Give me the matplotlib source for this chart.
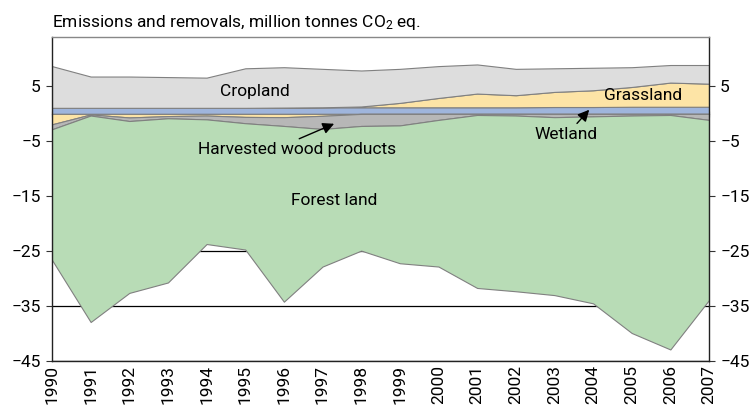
import numpy as np
import matplotlib
matplotlib.use("Agg")
import matplotlib.pyplot as plt

plt.rcParams['font.family'] = ['Roboto', 'DejaVu Sans']
plt.rcParams['mathtext.fontset'] = 'custom'
plt.rcParams['mathtext.rm'] = 'Roboto'
plt.rcParams['mathtext.it'] = 'Roboto:italic'
plt.rcParams['mathtext.bf'] = 'Roboto:bold'

years = list(range(1990, 2008))
wetland = [1.1, 1.1, 1.1, 1.1, 1.1, 1.1, 1.15, 1.2, 1.2, 1.2, 1.2, 1.2, 1.2, 1.25, 1.25, 1.3, 1.3, 1.3]
grassland = [-1.9, -0.1, -0.65, -0.4, -0.3, -0.55, -0.6, -0.35, 0.15, 0.8, 1.7, 2.5, 2.2, 2.75, 3.05, 3.6, 4.4, 4.2]
cropland = [7.6, 5.7, 5.7, 5.6, 5.5, 7.2, 7.35, 7.0, 6.55, 6.2, 5.8, 5.3, 4.8, 4.3, 4.1, 3.6, 3.2, 3.4]
harvested_wood = [-0.9, -0.2, -0.65, -0.4, -0.7, -1.15, -1.6, -2.4, -2.2, -2.1, -1.1, -0.2, -0.3, -0.6, -0.45, -0.3, -0.2, -1.1]
forest_land = [-23.8, -37.6, -31.3, -29.9, -22.7, -23.0, -32.0, -25.05, -22.7, -25.1, -26.7, -31.5,
               -32.0, -32.4, -34.05, -39.6, -42.7, -32.8]
y_ticks = [5, -5, -15, -25, -35, -45]

x = np.array(years)
g = np.array(grassland)
g_pos = np.clip(g, 0, None)
g_neg = np.clip(g, None, 0)

edge = '#808080'
col_crop = '#dddddd'
col_grass = '#fde4a6'
col_wet = '#9fb5dc'
col_hwp = '#b7b7b7'
col_forest = '#b8dcb6'

fig = plt.figure(figsize=(7.55, 4.07), dpi=100)
ax = fig.add_axes([52 / 755, 1 - 361 / 407, (709 - 52) / 755, (361 - 37) / 407])

# positive side, stacked up from zero
base = np.zeros_like(x, dtype=float)
for vals, col in [(np.array(wetland), col_wet), (g_pos, col_grass), (np.array(cropland), col_crop)]:
    top = base + vals
    ax.fill_between(x, base, top, facecolor=col, edgecolor=edge, linewidth=0.8, zorder=2)
    base = top

# negative side, stacked down from zero
base = np.zeros_like(x, dtype=float)
for vals, col in [(g_neg, col_grass), (np.array(harvested_wood), col_hwp), (np.array(forest_land), col_forest)]:
    top = base + vals
    ax.fill_between(x, base, top, facecolor=col, edgecolor=edge, linewidth=0.8, zorder=2)
    base = top

ax.set_xlim(1990, 2007)
ax.set_ylim(-45, 14)

ax.set_yticks(y_ticks)
ax.set_yticklabels([f"{v}".replace('-', '\u2212') for v in y_ticks])
ax.yaxis.grid(True, color='black', linewidth=0.9)
ax.set_axisbelow(True)
ax.tick_params(axis='y', which='both', left=True, right=True, labelleft=True, labelright=True,
               labelsize=12.5, length=4, width=0.8, color='#333333', pad=4)
for t in ax.yaxis.get_major_ticks():
    t.tick2line.set_marker(matplotlib.lines.TICKRIGHT)

ax.set_xticks(years)
ax.set_xticklabels([str(y) for y in years], rotation=90)
ax.tick_params(axis='x', length=0, labelsize=12.5, pad=3)

for s in ['left', 'right', 'bottom']:
    ax.spines[s].set_color('#222222')
    ax.spines[s].set_linewidth(1.0)
ax.spines['top'].set_color('#888888')
ax.spines['top'].set_linewidth(1.0)

# zero axis with year ticks
zero_frac = (0 - (-45)) / (14 - (-45))
sec = ax.secondary_xaxis(zero_frac)
sec.set_xticks(years)
sec.tick_params(axis='x', direction='inout', length=4, width=0.8, labelbottom=False,
                labeltop=False, colors='#222222')
sec.spines['bottom'].set_color('#222222')
sec.spines['bottom'].set_linewidth(1.0)

fs = 12.5
ax.text(1995.25, 4.1, 'Cropland', ha='center', va='center', fontsize=fs, zorder=5)
ax.text(2005.3, 3.4, 'Grassland', ha='center', va='center', fontsize=fs, zorder=5)
ax.text(1997.3, -15.7, 'Forest land', ha='center', va='center', fontsize=fs, zorder=5)
ax.annotate('Wetland', xy=(2003.9, 0.75), xytext=(2003.3, -3.8), ha='center', va='center',
            fontsize=fs, zorder=5,
            arrowprops=dict(arrowstyle='-|>', color='black', lw=1.0, mutation_scale=17,
                            shrinkA=1, shrinkB=0, relpos=(0.62, 1.0)))
ax.annotate('Harvested wood products', xy=(1997.3, -1.8), xytext=(1996.35, -6.5), ha='center',
            va='center', fontsize=fs, zorder=5,
            arrowprops=dict(arrowstyle='-|>', color='black', lw=1.0, mutation_scale=17,
                            shrinkA=1, shrinkB=0, relpos=(0.47, 1.0)))

fig.text(52 / 755, 1 - 22 / 407, r'Emissions and removals, million tonnes CO$_2$ eq.',
         ha='left', va='center', fontsize=12.5)

fig.savefig('out.png', dpi=100)
